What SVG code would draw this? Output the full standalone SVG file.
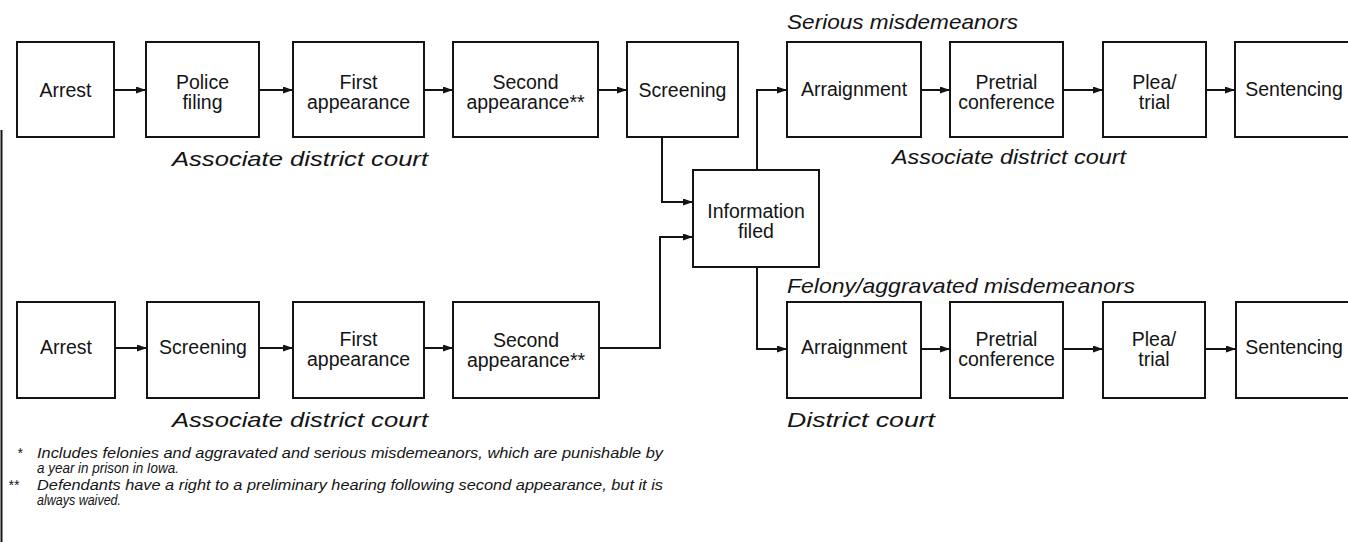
<svg xmlns="http://www.w3.org/2000/svg" width="1348" height="542" viewBox="0 0 1348 542">
  <style>
    .box { fill: #fff; stroke: #141414; stroke-width: 2; }
    .lbl { font-family: "Liberation Sans", Arial, sans-serif; font-size: 19.5px; fill: #141414; text-anchor: middle; }
    .court { font-family: "Liberation Sans", Arial, sans-serif; font-size: 21px; font-style: italic; fill: #141414; }
    .note { font-family: "Liberation Sans", Arial, sans-serif; font-size: 14px; font-style: italic; fill: #141414; }
    .wire { fill: none; stroke: #141414; stroke-width: 2; }
    .arr { marker-end: url(#head); }
  </style>
  <defs>
    <marker id="head" markerUnits="userSpaceOnUse" markerWidth="11" markerHeight="8" refX="10" refY="3.5" orient="auto">
      <path d="M0,0 L10,3.5 L0,7 Z" fill="#141414"/>
    </marker>
  </defs>

  <rect width="1348" height="542" fill="#fff"/>
  <!-- page edge rule -->
  <line x1="1.5" y1="130" x2="1.5" y2="542" stroke="#141414" stroke-width="2"/>

  <!-- section labels -->
  <text class="court" x="172" y="166" textLength="256" lengthAdjust="spacingAndGlyphs">Associate district court</text>
  <text class="court" x="787" y="29" textLength="231" lengthAdjust="spacingAndGlyphs">Serious misdemeanors</text>
  <text class="court" x="892" y="164" textLength="234" lengthAdjust="spacingAndGlyphs">Associate district court</text>
  <text class="court" x="787" y="293" textLength="348" lengthAdjust="spacingAndGlyphs">Felony/aggravated misdemeanors</text>
  <text class="court" x="172" y="427" textLength="256" lengthAdjust="spacingAndGlyphs">Associate district court</text>
  <text class="court" x="787" y="427" textLength="148" lengthAdjust="spacingAndGlyphs">District court</text>

  <!-- connectors -->
  <g id="connectors">
    <line class="wire arr" x1="114" y1="90" x2="146" y2="90"/>
    <line class="wire arr" x1="259" y1="90" x2="293" y2="90"/>
    <line class="wire arr" x1="424" y1="90" x2="453" y2="90"/>
    <line class="wire arr" x1="598" y1="90" x2="627" y2="90"/>
    <line class="wire arr" x1="921" y1="90" x2="950" y2="90"/>
    <line class="wire arr" x1="1063" y1="90" x2="1103" y2="90"/>
    <line class="wire arr" x1="1206" y1="90" x2="1235" y2="90"/>

    <line class="wire arr" x1="115" y1="348" x2="147" y2="348"/>
    <line class="wire arr" x1="259" y1="348" x2="293" y2="348"/>
    <line class="wire arr" x1="424" y1="348" x2="453" y2="348"/>
    <line class="wire arr" x1="921" y1="349" x2="950" y2="349"/>
    <line class="wire arr" x1="1063" y1="349" x2="1103" y2="349"/>
    <line class="wire arr" x1="1205" y1="349" x2="1236" y2="349"/>

    <polyline class="wire arr" points="662,137 662,202 693,202"/>
    <polyline class="wire arr" points="599,348 660,348 660,237 693,237"/>
    <polyline class="wire arr" points="757,170 757,90 787,90"/>
    <polyline class="wire arr" points="757,267 757,349 787,349"/>
  </g>

  <!-- upper track -->
  <g id="t-arrest"><rect class="box" x="17" y="42" width="97" height="95"/><text class="lbl" x="65.5" y="97">Arrest</text></g>
  <g id="t-police"><rect class="box" x="146" y="42" width="113" height="95"/><text class="lbl" x="202.5" y="88.5">Police</text><text class="lbl" x="202.5" y="108.5">filing</text></g>
  <g id="t-first"><rect class="box" x="293" y="42" width="131" height="95"/><text class="lbl" x="358.5" y="88.5">First</text><text class="lbl" x="358.5" y="108.5">appearance</text></g>
  <g id="t-second"><rect class="box" x="453" y="42" width="145" height="95"/><text class="lbl" x="525.5" y="88.5">Second</text><text class="lbl" x="525.5" y="108.5">appearance**</text></g>
  <g id="t-screening"><rect class="box" x="627" y="42" width="111" height="95"/><text class="lbl" x="682.5" y="97">Screening</text></g>

  <!-- central filing -->
  <g id="info"><rect class="box" x="693" y="170" width="126" height="97"/><text class="lbl" x="756" y="218">Information</text><text class="lbl" x="756" y="238">filed</text></g>

  <!-- serious misdemeanors -->
  <g id="s-arraign"><rect class="box" x="787" y="42" width="134" height="95"/><text class="lbl" x="854" y="96">Arraignment</text></g>
  <g id="s-pretrial"><rect class="box" x="950" y="42" width="113" height="95"/><text class="lbl" x="1006.5" y="89">Pretrial</text><text class="lbl" x="1006.5" y="109">conference</text></g>
  <g id="s-plea"><rect class="box" x="1103" y="42" width="103" height="95"/><text class="lbl" x="1154.5" y="89">Plea/</text><text class="lbl" x="1154.5" y="109">trial</text></g>
  <g id="s-sentence"><rect class="box" x="1235" y="42" width="116" height="95"/><text class="lbl" x="1294" y="96">Sentencing</text></g>

  <!-- lower track -->
  <g id="b-arrest"><rect class="box" x="17" y="302" width="98" height="96"/><text class="lbl" x="66" y="354">Arrest</text></g>
  <g id="b-screening"><rect class="box" x="147" y="302" width="112" height="96"/><text class="lbl" x="203" y="354">Screening</text></g>
  <g id="b-first"><rect class="box" x="293" y="302" width="131" height="96"/><text class="lbl" x="358.5" y="346">First</text><text class="lbl" x="358.5" y="366">appearance</text></g>
  <g id="b-second"><rect class="box" x="453" y="302" width="146" height="96"/><text class="lbl" x="526" y="346.5">Second</text><text class="lbl" x="526" y="366.5">appearance**</text></g>

  <!-- felony / aggravated misdemeanors -->
  <g id="f-arraign"><rect class="box" x="787" y="302" width="134" height="96"/><text class="lbl" x="854" y="354">Arraignment</text></g>
  <g id="f-pretrial"><rect class="box" x="950" y="302" width="113" height="96"/><text class="lbl" x="1006.5" y="346">Pretrial</text><text class="lbl" x="1006.5" y="366">conference</text></g>
  <g id="f-plea"><rect class="box" x="1103" y="302" width="102" height="96"/><text class="lbl" x="1154" y="346">Plea/</text><text class="lbl" x="1154" y="366">trial</text></g>
  <g id="f-sentence"><rect class="box" x="1236" y="302" width="115" height="96"/><text class="lbl" x="1294" y="354">Sentencing</text></g>

  <!-- footnotes -->
  <g id="notes">
    <text class="note" x="17" y="458">*</text>
    <text class="note" x="37" y="458" textLength="626" lengthAdjust="spacingAndGlyphs">Includes felonies and aggravated and serious misdemeanors, which are punishable by</text>
    <text class="note" x="37" y="473" textLength="142" lengthAdjust="spacingAndGlyphs">a year in prison in Iowa.</text>
    <text class="note" x="8" y="490">**</text>
    <text class="note" x="37" y="490" textLength="626" lengthAdjust="spacingAndGlyphs">Defendants have a right to a preliminary hearing following second appearance, but it is</text>
    <text class="note" x="37" y="505" textLength="84" lengthAdjust="spacingAndGlyphs">always waived.</text>
  </g>
</svg>
